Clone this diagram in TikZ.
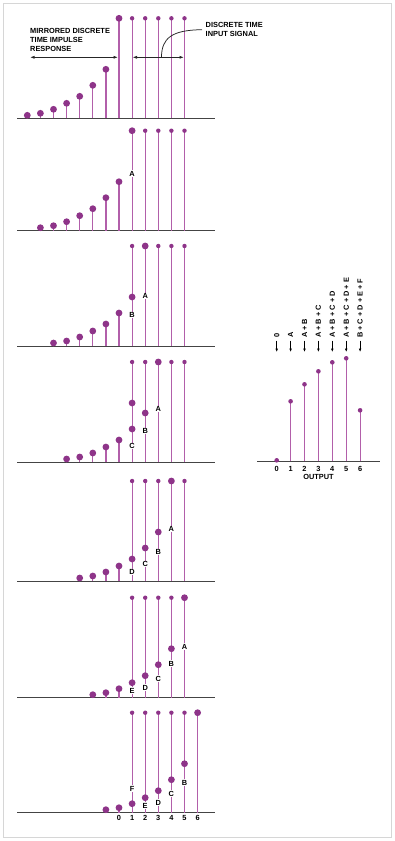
\documentclass[tikz,border=0pt]{standalone}
\usepackage{fontspec}
\setmainfont{Liberation Sans}
\usetikzlibrary{arrows.meta}
\definecolor{mStem}{HTML}{B25FAA}
\definecolor{mDot}{HTML}{8E3489}
\definecolor{mFrame}{HTML}{D6D6D6}
\definecolor{mAxis}{HTML}{444444}

\begin{document}
\begin{tikzpicture}[x=1pt, y=-1pt,
    font=\bfseries\fontsize{7.4}{9}\selectfont,
    stemline/.style={mStem, line width=1.2pt},
    axisline/.style={mAxis, line width=1pt},
    dimarrow/.style={{Latex[length=4.5pt,width=3pt]}-{Latex[length=4.5pt,width=3pt]}, black!85, line width=0.75pt},
    lab/.style={fill=white, inner sep=0.7pt},
    txt/.style={anchor=north west, align=left, inner sep=0pt}]
  \fill[white] (0,0) rectangle (395,841);
  \useasboundingbox (0,0) rectangle (395,841);
  \draw[mFrame, line width=0.8pt] (3.5,3.5) rectangle (391.5,837.5);

  % seven steps of the convolution
  \foreach \yb/\hs/\pa/\pz in {118.3/0/0/5, 230.7/1/1/5, 346/2/1/5, 462/3/1/5,
                                581/4/1/5, 697.7/5/1/5, 812.7/6/1/6} {
    \draw[axisline] (17,\yb) -- (215,\yb);
    \foreach \p in {\pa,...,\pz}
      \draw[stemline] (119+13.1*\p,\yb) -- ++(0,-100);
    \foreach \h [count=\k from 0] in {100,49,33,22,15,9,5,3}
      \draw[stemline] (119+13.1*\hs-13.1*\k,\yb) -- ++(0,-\h);
    \foreach \p in {\pa,...,\pz}
      \fill[mDot] (119+13.1*\p,\yb-100) circle[radius=2.2pt];
    \foreach \h [count=\k from 0] in {100,49,33,22,15,9,5,3}
      \fill[mDot] (119+13.1*\hs-13.1*\k,\yb-\h) circle[radius=3.4pt];
  }
  \fill[mDot] (119+13.1,462-59) circle[radius=3.4pt];

  \foreach \t/\p/\yb/\h in {A/1/230.7/57,
      A/2/346/50, B/1/346/31,
      A/3/462/53, B/2/462/31, C/1/462/16,
      A/4/581/52, B/3/581/29, C/2/581/17, D/1/581/9,
      A/5/697.7/51, B/4/697.7/34, C/3/697.7/19, D/2/697.7/10, E/1/697.7/7,
      B/5/812.7/30, C/4/812.7/19, D/3/812.7/10, E/2/812.7/7, F/1/812.7/24}
    \node[lab] (lab\t\p) at (119+13.1*\p,\yb-\h) {\t};

  \foreach \p in {0,...,6}
    \node (tick\p) at (119+13.1*\p,817.7) {\p};

  % annotations of the first step
  \node[txt] (irtext) at (30,28) {MIRRORED DISCRETE\\TIME IMPULSE\\RESPONSE};
  \coordinate (irL) at (30,57.3);
  \coordinate (irR) at (118,57.3);
  \draw[dimarrow] (irL) -- (irR);
  \node[txt] (intext) at (205.5,22.4) {DISCRETE TIME\\INPUT SIGNAL};
  \coordinate (inL) at (132.5,57.3);
  \coordinate (inR) at (184,57.3);
  \coordinate (inC) at (161.5,57.3);
  \draw[dimarrow] (inL) -- (inR);
  \draw[black!85, line width=0.75pt] (inC) .. controls (161.5,38) and (172,30) .. ([xshift=-3.5pt]intext.west);

  % output sequence
  \draw[axisline] (257,461.3) -- (380,461.3);
  \foreach \h/\sum [count=\j from 0] in {1/0, 60/A, 77/A + B, 90/A + B + C,
      99/A + B + C + D, 103/A + B + C + D + E, 51/B + C + D + E + F} {
    \draw[stemline] (276.7+13.9*\j,461.3) -- ++(0,-\h);
    \fill[mDot] (276.7+13.9*\j,461.3-\h) circle[radius=2.3pt];
    \node (num\j) at (276.7+13.9*\j,469.3) {\j};
    \node[rotate=90, anchor=west, inner sep=2.5pt] (sum\j) at (276.7+13.9*\j,340.5) {\sum};
    \coordinate (tip\j) at (276.7+13.9*\j,352);
    \draw[-{Latex[length=3.5pt,width=2.8pt]}, black, line width=0.75pt] (sum\j.west) -- (tip\j);
  }
  \node (outlab) at (318.5,477.3) {OUTPUT};
\end{tikzpicture}
\end{document}
